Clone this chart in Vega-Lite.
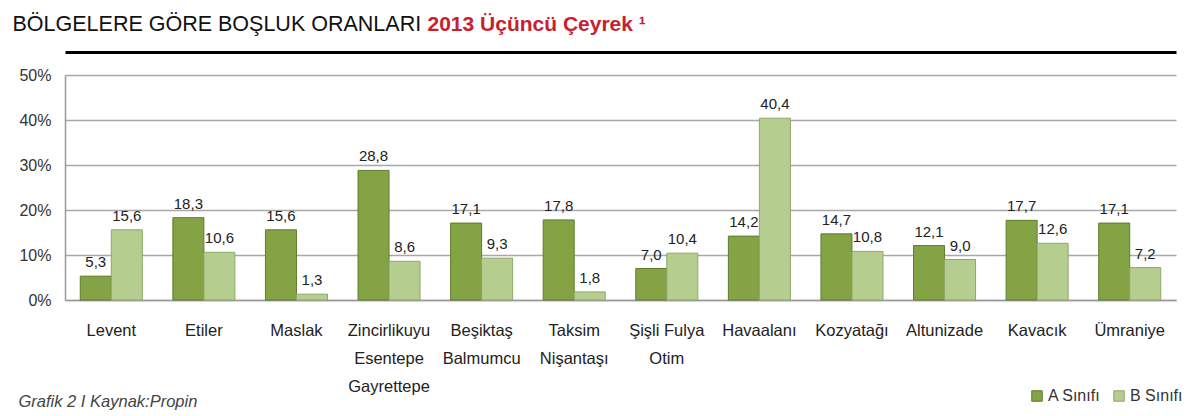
{
  "$schema": "https://vega.github.io/schema/vega-lite/v6.json",
  "width": 1111,
  "height": 225,
  "autosize": {"type": "none"},
  "padding": {"left": 65, "top": 75, "right": 12, "bottom": 116},
  "background": "white",
  "config": {
    "locale": {"number": {"decimal": ",", "thousands": ".", "grouping": [3], "currency": ["", " TL"]}},
    "view": {"stroke": null},
    "font": "Liberation Sans"
  },
  "data": {
    "values": [
      {"region": "Levent", "class": "A Sınıfı", "value": 5.3},
      {"region": "Levent", "class": "B Sınıfı", "value": 15.6},
      {"region": "Etiler", "class": "A Sınıfı", "value": 18.3},
      {"region": "Etiler", "class": "B Sınıfı", "value": 10.6},
      {"region": "Maslak", "class": "A Sınıfı", "value": 15.6},
      {"region": "Maslak", "class": "B Sınıfı", "value": 1.3},
      {"region": "Zincirlikuyu\nEsentepe\nGayrettepe", "class": "A Sınıfı", "value": 28.8},
      {"region": "Zincirlikuyu\nEsentepe\nGayrettepe", "class": "B Sınıfı", "value": 8.6},
      {"region": "Beşiktaş\nBalmumcu", "class": "A Sınıfı", "value": 17.1},
      {"region": "Beşiktaş\nBalmumcu", "class": "B Sınıfı", "value": 9.3},
      {"region": "Taksim\nNişantaşı", "class": "A Sınıfı", "value": 17.8},
      {"region": "Taksim\nNişantaşı", "class": "B Sınıfı", "value": 1.8},
      {"region": "Şişli Fulya\nOtim", "class": "A Sınıfı", "value": 7.0},
      {"region": "Şişli Fulya\nOtim", "class": "B Sınıfı", "value": 10.4},
      {"region": "Havaalanı", "class": "A Sınıfı", "value": 14.2},
      {"region": "Havaalanı", "class": "B Sınıfı", "value": 40.4},
      {"region": "Kozyatağı", "class": "A Sınıfı", "value": 14.7},
      {"region": "Kozyatağı", "class": "B Sınıfı", "value": 10.8},
      {"region": "Altunizade", "class": "A Sınıfı", "value": 12.1},
      {"region": "Altunizade", "class": "B Sınıfı", "value": 9.0},
      {"region": "Kavacık", "class": "A Sınıfı", "value": 17.7},
      {"region": "Kavacık", "class": "B Sınıfı", "value": 12.6},
      {"region": "Ümraniye", "class": "A Sınıfı", "value": 17.1},
      {"region": "Ümraniye", "class": "B Sınıfı", "value": 7.2}
    ]
  },
  "encoding": {
    "xOffset": {"field": "class", "type": "nominal"},
    "y": {
      "field": "value", "type": "quantitative",
      "scale": {"domain": [0, 50]},
      "axis": {
        "values": [0, 10, 20, 30, 40, 50],
        "labelExpr": "datum.value + '%'",
        "labelFontSize": 16,
        "labelColor": "#333",
        "labelPadding": 14,
        "ticks": false,
        "domainColor": "#9a9a9a",
        "domainWidth": 1.5,
        "gridColor": "#a8a8a8",
        "gridWidth": 1.5,
        "title": "2013 Üçüncü Çeyrek ¹",
        "titleAngle": 0,
        "titleColor": "#c8202f",
        "titleFontWeight": "bold",
        "titleFontSize": 21,
        "titleAlign": "left",
        "titleBaseline": "alphabetic",
        "titleX": 362,
        "titleY": -45
      }
    }
  },
  "layer": [
    {
      "mark": {"type": "bar", "strokeWidth": 1},
      "encoding": {
        "x": {
          "field": "region", "type": "nominal", "sort": null,
          "scale": {"paddingInner": 0.33, "paddingOuter": 0.165},
          "axis": {
            "orient": "bottom",
            "labelAngle": 0,
            "labelFontSize": 16.5,
            "labelColor": "#222",
            "labelPadding": 22,
            "labelLineHeight": 28,
            "labelBaseline": "top",
            "labelOverlap": false,
            "labelExpr": "split(datum.label, '\\n')",
            "ticks": false,
            "domainColor": "#9a9a9a",
            "domainWidth": 1.5,
            "title": "Grafik 2 I Kaynak:Propin",
            "titleFontStyle": "italic",
            "titleFontWeight": "normal",
            "titleFontSize": 16.5,
            "titleColor": "#444",
            "titleAlign": "left",
            "titleBaseline": "alphabetic",
            "titleX": -47,
            "titleY": 106
          }
        },
        "fill": {
          "field": "class", "type": "nominal",
          "scale": {"domain": ["A Sınıfı", "B Sınıfı"], "range": ["#84a345", "#b5cd8e"]},
          "legend": {
            "orient": "none",
            "legendX": 964,
            "legendY": 313,
            "direction": "horizontal",
            "title": null,
            "padding": 0,
            "labelFontSize": 16,
            "labelColor": "#333",
            "symbolType": "square",
            "symbolSize": 110,
            "symbolStrokeWidth": 1,
            "columnPadding": 10,
            "labelOffset": 3
          }
        },
        "stroke": {
          "field": "class", "type": "nominal",
          "scale": {"domain": ["A Sınıfı", "B Sınıfı"], "range": ["#5f7d2c", "#8ea868"]},
          "legend": null
        }
      }
    },
    {
      "mark": {"type": "text", "baseline": "bottom", "dy": -6, "fontSize": 15, "color": "#222"},
      "encoding": {
        "x": {
          "field": "region", "type": "nominal", "sort": null,
          "axis": {
            "orient": "top",
            "offset": 23,
            "domainColor": "#000",
            "domainWidth": 3,
            "labels": false,
            "ticks": false,
            "grid": false,
            "title": "BÖLGELERE GÖRE BOŞLUK ORANLARI",
            "titleFontSize": 21.5,
            "titleFontWeight": "normal",
            "titleColor": "#111",
            "titleAlign": "left",
            "titleBaseline": "alphabetic",
            "titleX": -53,
            "titleY": -22
          }
        },
        "text": {"field": "value", "type": "quantitative", "format": ".1f"}
      }
    }
  ],
  "resolve": {"axis": {"x": "independent"}}
}
